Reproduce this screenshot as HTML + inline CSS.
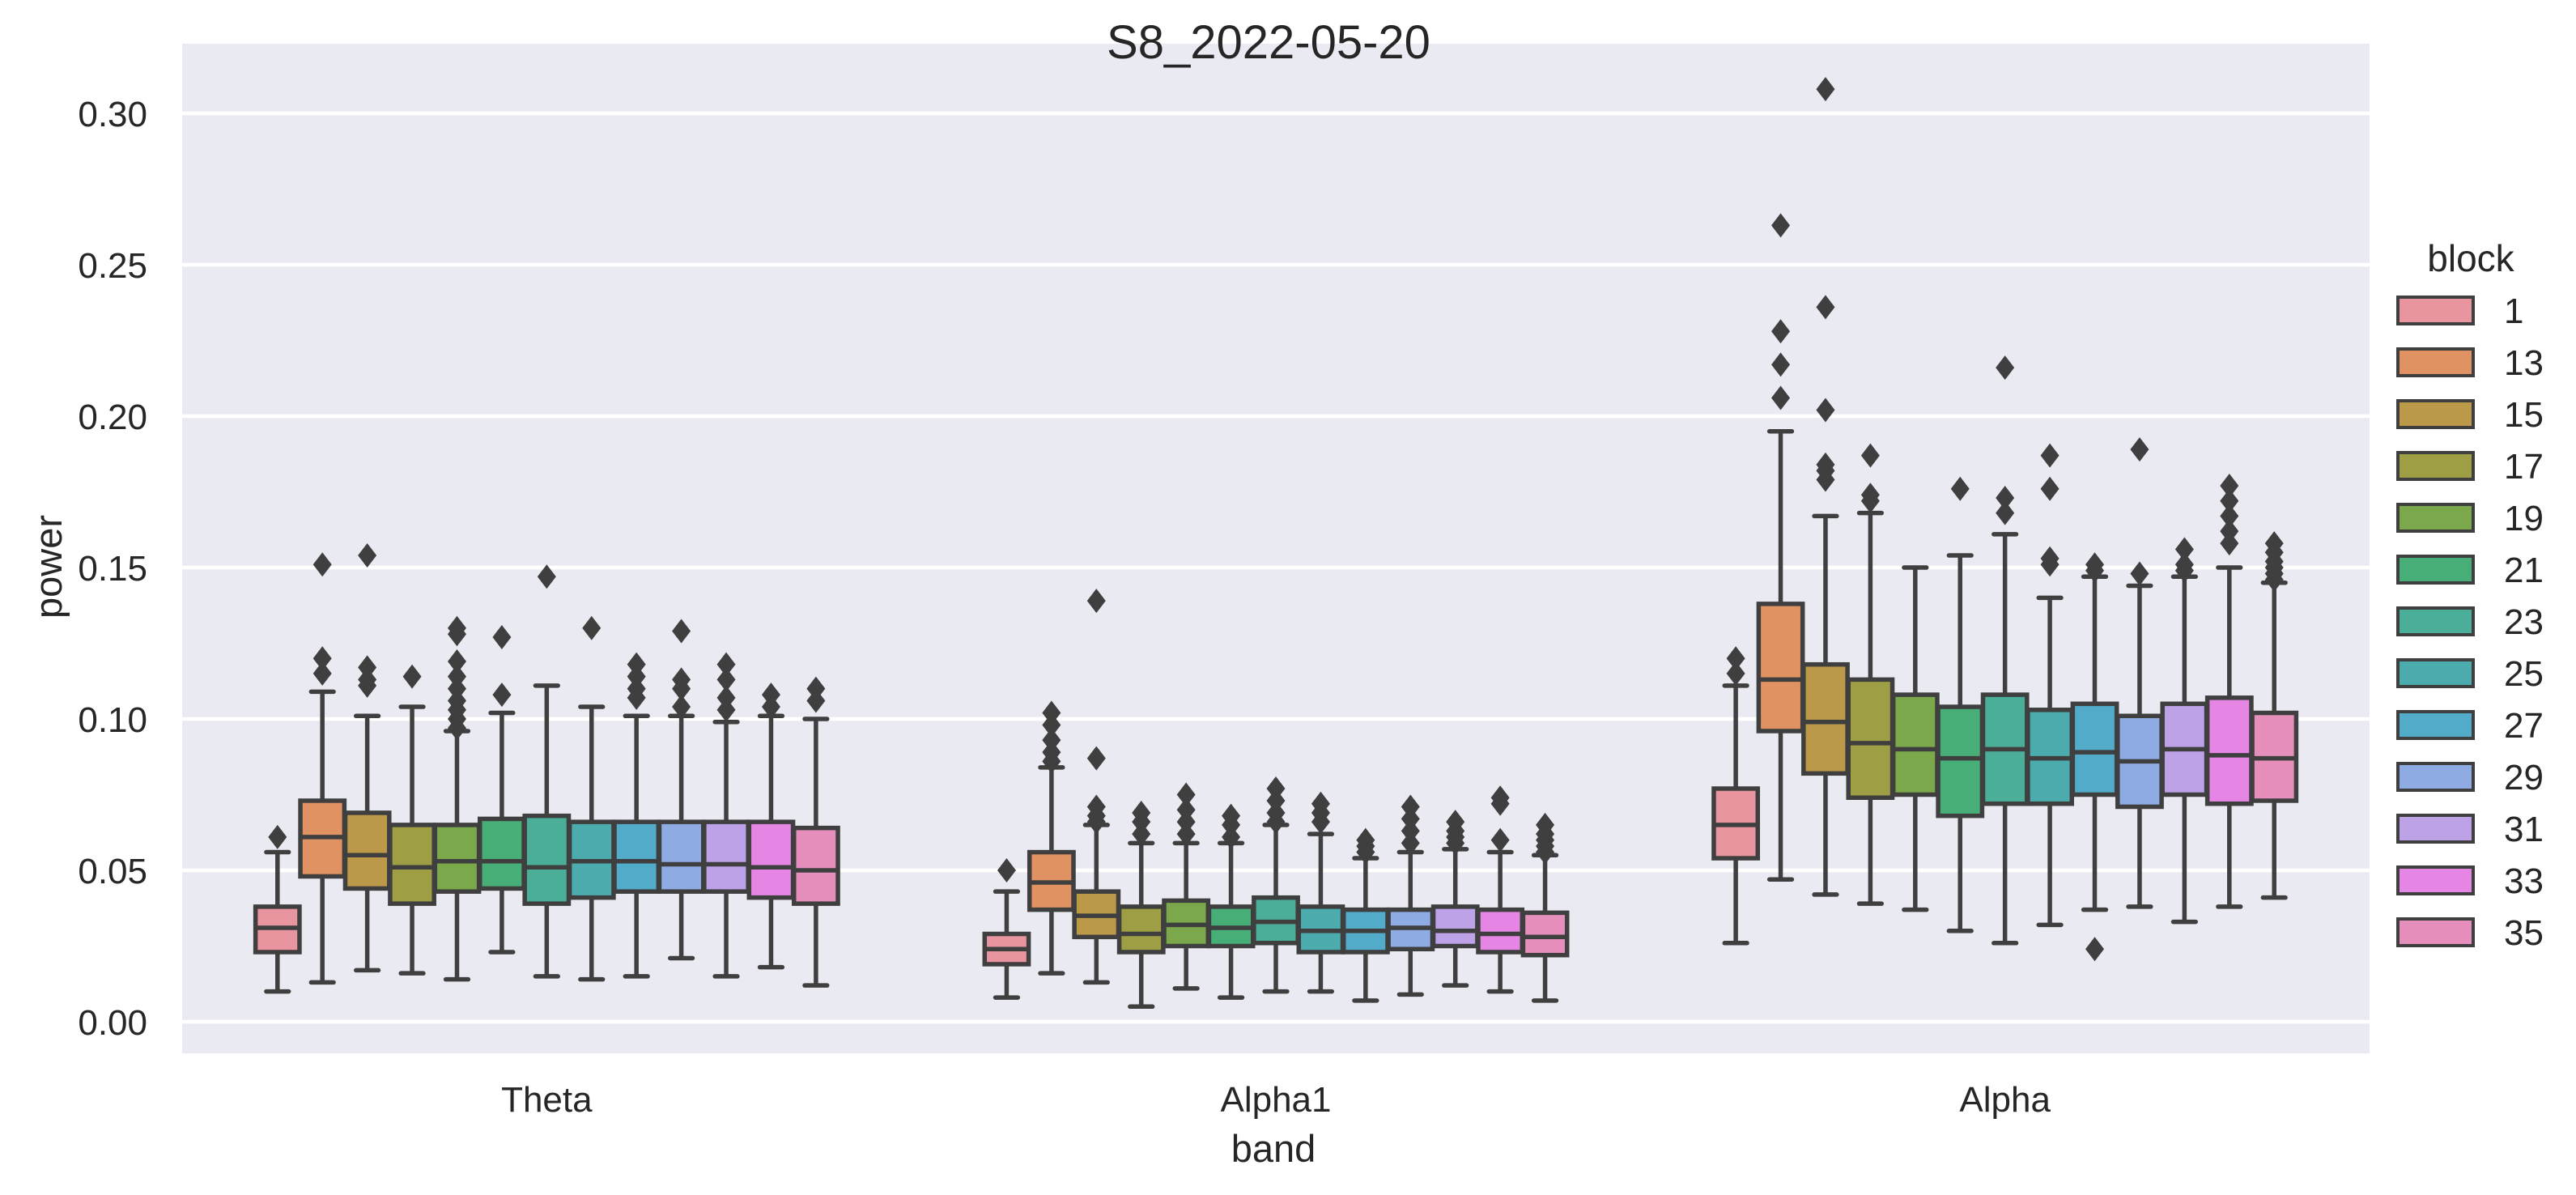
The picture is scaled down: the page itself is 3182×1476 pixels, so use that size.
<!DOCTYPE html>
<html><head><meta charset="utf-8"><style>
html,body{margin:0;padding:0;background:#fff;}
svg{display:block;font-family:"Liberation Sans",Arial,sans-serif;}
</style></head><body>
<svg id="chart" width="3182" height="1476" viewBox="0 0 3182 1476" xmlns="http://www.w3.org/2000/svg">
<rect x="0" y="0" width="3182" height="1476" fill="#ffffff"/>
<rect x="225" y="54" width="2702" height="1247" fill="#eaeaf2"/>
<g id="grid"></g>
<g id="yticks"></g>
<g id="xticks"></g>
<g id="boxes"></g>
<text x="1567" y="72" font-size="58" text-anchor="middle" fill="#262626">S8_2022-05-20</text>
<text x="1573" y="1435" font-size="47" text-anchor="middle" fill="#262626">band</text>
<text x="0" y="0" font-size="47" text-anchor="middle" fill="#262626" transform="translate(76,700) rotate(-90)">power</text>
<g id="legend">
<text x="3052" y="335" font-size="46" text-anchor="middle" fill="#262626">block</text>
</g>
</svg>
<script>
const bands = ["Theta","Alpha1","Alpha"];
const blocks = ["1","13","15","17","19","21","23","25","27","29","31","33","35"];
const colors = ["#e995a0","#e19262","#bc9849","#9e9e45","#7ba84a","#48ae78","#4aae99","#4babad","#52abc9","#8eabe3","#bda2e8","#e586e4","#e68fbd"];
const yTicks = [0.00,0.05,0.10,0.15,0.20,0.25,0.30];
const yTickLabels = ["0.00","0.05","0.10","0.15","0.20","0.25","0.30"];
// per band: [whiskerLow, q1, median, q3, whiskerHigh] per block
const thetaStats = [[.010,.023,.031,.038,.056],[.013,.048,.061,.073,.109],[.017,.044,.055,.069,.101],[.016,.039,.051,.065,.104],[.014,.043,.053,.065,.096],[.023,.044,.053,.067,.102],[.015,.039,.051,.068,.111],[.014,.041,.053,.066,.104],[.015,.043,.053,.066,.101],[.021,.043,.052,.066,.101],[.015,.043,.052,.066,.099],[.018,.041,.051,.066,.101],[.012,.039,.050,.064,.100]];
const thetaOut = [[.061],[.115,.120,.151],[.111,.113,.117,.154],[.114],[.097,.100,.103,.106,.110,.114,.119,.128,.130],[.108,.127],[.147],[.130],[.107,.110,.114,.118],[.104,.110,.113,.129],[.103,.107,.113,.118],[.104,.108],[.106,.110]];
const alpha1Stats = [[.008,.019,.024,.029,.043],[.016,.037,.046,.056,.084],[.013,.028,.035,.043,.065],[.005,.023,.029,.038,.059],[.011,.025,.032,.040,.059],[.008,.025,.031,.038,.059],[.010,.026,.033,.041,.065],[.010,.023,.030,.038,.062],[.007,.023,.030,.037,.054],[.009,.024,.031,.037,.056],[.012,.025,.030,.038,.057],[.010,.023,.029,.037,.056],[.007,.022,.028,.036,.055]];
const alpha1Out = [[.050],[.086,.089,.093,.098,.102],[.066,.068,.071,.087,.139],[.062,.066,.069],[.062,.066,.070,.075],[.061,.065,.068],[.066,.069,.073,.077],[.066,.069,.072],[.056,.058,.060],[.059,.063,.067,.071],[.059,.061,.063,.066],[.060,.072,.074],[.056,.058,.060,.062,.065]];
const alphaStats = [[.026,.054,.065,.077,.111],[.047,.096,.113,.138,.195],[.042,.082,.099,.118,.167],[.039,.074,.092,.113,.168],[.037,.075,.090,.108,.150],[.030,.068,.087,.104,.154],[.026,.072,.090,.108,.161],[.032,.072,.087,.103,.140],[.037,.075,.089,.105,.147],[.038,.071,.086,.101,.144],[.033,.075,.090,.105,.147],[.038,.072,.088,.107,.150],[.041,.073,.087,.102,.145]];
const alphaOut = [[.115,.120],[.206,.217,.228,.263],[.179,.182,.184,.202,.236,.308],[.172,.174,.187],[],[.176],[.168,.173,.216],[.151,.153,.176,.187],[.149,.151,.024],[.148,.189],[.149,.151,.156],[.158,.162,.167,.172,.177],[.146,.148,.150,.152,.155,.158]];

const NS="http://www.w3.org/2000/svg";
const PL=225, PR=2927, Y0=1262, Y30=140;
function yS(v){return Y0-(v/0.30)*(Y0-Y30);}
const unitW=(PR-PL)/bands.length;
function bandX(i){return PL+unitW*(i+0.5);}
const groupW=unitW*0.8, pitch=groupW/blocks.length;
function boxX(bi,k){return bandX(bi)-groupW/2+pitch*(k+0.5);}
function mk(tag,attrs,parent){const e=document.createElementNS(NS,tag);for(const a in attrs)e.setAttribute(a,attrs[a]);parent.appendChild(e);return e;}

const grid=document.getElementById('grid'), yt=document.getElementById('yticks');
yTicks.forEach((v,i)=>{
  const l=mk('line',{x1:PL,x2:PR,y1:yS(v),y2:yS(v),stroke:'#ffffff','stroke-width':4.4},grid);
  
  
  const t=mk('text',{x:182,y:yS(v)+16,'font-size':44,'text-anchor':'end',fill:'#262626'},yt);
  t.textContent=yTickLabels[i];
  
  
});
const xt=document.getElementById('xticks');
bands.forEach((b,i)=>{
  const t=mk('text',{x:bandX(i),y:1373,'font-size':44,'text-anchor':'middle',fill:'#262626'},xt);
  t.textContent=b;
  
  
});

const allStats=[thetaStats,alpha1Stats,alphaStats], allOut=[thetaOut,alpha1Out,alphaOut];
const boxes=document.getElementById('boxes');
const EC='#3f3f3f', SW=5.5, BW=pitch*0.98, CW=pitch*0.5;
allStats.forEach((stats,bi)=>{
  stats.forEach((s,k)=>{
    const cx=boxX(bi,k);
    const g=mk('g',{},boxes);
    
    
    mk('line',{x1:cx,x2:cx,y1:yS(s[0]),y2:yS(s[1]),stroke:EC,'stroke-width':SW},g);
    mk('line',{x1:cx,x2:cx,y1:yS(s[3]),y2:yS(s[4]),stroke:EC,'stroke-width':SW},g);
    mk('line',{x1:cx-CW/2,x2:cx+CW/2,y1:yS(s[0]),y2:yS(s[0]),stroke:EC,'stroke-width':SW,'stroke-linecap':'round'},g);
    mk('line',{x1:cx-CW/2,x2:cx+CW/2,y1:yS(s[4]),y2:yS(s[4]),stroke:EC,'stroke-width':SW,'stroke-linecap':'round'},g);
    mk('rect',{x:cx-BW/2,y:yS(s[3]),width:BW,height:yS(s[1])-yS(s[3]),fill:colors[k],stroke:EC,'stroke-width':SW},g);
    mk('line',{x1:cx-BW/2,x2:cx+BW/2,y1:yS(s[2]),y2:yS(s[2]),stroke:EC,'stroke-width':SW},g);
    allOut[bi][k].forEach(v=>{
      const y=yS(v);
      const p=mk('polygon',{points:`${cx},${y-15} ${cx+11.5},${y} ${cx},${y+15} ${cx-11.5},${y}`,fill:EC},g);
      
      
    });
  });
});

const lg=document.getElementById('legend');
blocks.forEach((b,k)=>{
  const y=367+64*k;
  const r=mk('rect',{x:2962,y:y,width:93,height:33,fill:colors[k],stroke:EC,'stroke-width':4},lg);
  
  
  const t=mk('text',{x:3093,y:y+32,'font-size':44,fill:'#262626'},lg);
  t.textContent=b;
  
  
});
</script>
</body></html>
